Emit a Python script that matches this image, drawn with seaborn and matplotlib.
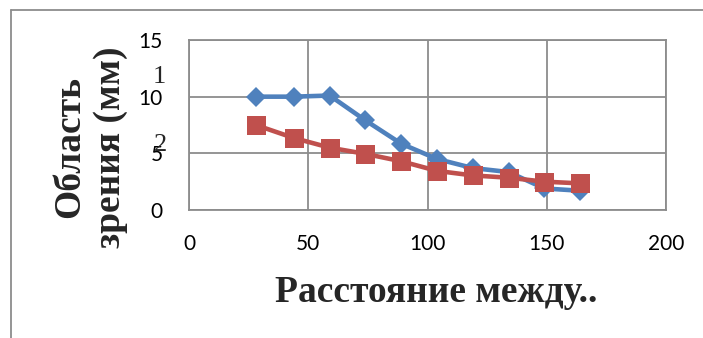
import pandas as pd
import numpy as np
import matplotlib
matplotlib.use('Agg')
import matplotlib.pyplot as plt
import seaborn as sns
from matplotlib.lines import Line2D

# distance values (x) and field of view for the two series
distance = [28, 44, 59, 74, 89, 104, 119, 134, 149, 164]
series_1 = [10.0, 10.0, 10.1, 7.9, 5.85, 4.5, 3.7, 3.35, 1.9, 1.7]
series_2 = [7.5, 6.35, 5.5, 4.95, 4.3, 3.45, 3.05, 2.85, 2.5, 2.35]
series_names = ['1', '2']
x_ticks = [0, 50, 100, 150, 200]
y_ticks = [0, 5, 10, 15]

sns.set_theme(style='white')
plt.rcParams['font.family'] = ['Lato', 'DejaVu Sans']

df = pd.DataFrame({
    'x': distance * 2,
    'y': series_1 + series_2,
    'name': [series_names[0]] * len(distance) + [series_names[1]] * len(distance),
})

fig = plt.figure(figsize=(7.03, 3.38), dpi=100)
ax = fig.add_axes([189 / 703, 1 - 210 / 338, (666 - 189) / 703, (210 - 40) / 338])

grid_col = '#8c8c8c'
sns.lineplot(data=df[df['name'] == '1'], x='x', y='y', color='#4F81BD', marker='D',
             markersize=13.5 * 0.72, markeredgewidth=0, linewidth=3.3, ax=ax, zorder=3)
sns.lineplot(data=df[df['name'] == '2'], x='x', y='y', color='#C0504D', marker='s',
             markersize=19 * 0.72, markeredgewidth=0, linewidth=3.3, ax=ax, zorder=4)

ax.set_xlim(0, 200)
ax.set_ylim(0, 15)
ax.set_xticks(x_ticks)
ax.set_yticks(y_ticks)
ax.grid(True, color=grid_col, linewidth=1.3)
for s in ax.spines.values():
    s.set_color(grid_col)
    s.set_linewidth(1.3)
ax.tick_params(axis='both', length=0, labelsize=15, colors='black')
ax.tick_params(axis='x', pad=17)
ax.tick_params(axis='y', pad=19)
ax.set_xlabel('')
ax.set_ylabel('')
if ax.get_legend():
    ax.get_legend().remove()

serif = ['Liberation Serif', 'DejaVu Serif']
fig.text(436 / 703, 1 - 292 / 338, 'Расстояние между..', family=serif, fontweight='bold',
         fontsize=27, ha='center', va='center')
fig.text(90 / 703, 1 - 147 / 338, 'Область\nзрения (мм)', family=serif, fontweight='bold',
         fontsize=27, ha='center', va='center', rotation=90, multialignment='center',
         linespacing=1.2)

# squashed legend entries
fig.text(166 / 703, 1 - 77 / 338, series_names[0], family=serif, fontsize=19,
         ha='right', va='center')
fig.text(167 / 703, 1 - 145 / 338, series_names[1], family=serif, fontsize=19,
         ha='right', va='center')

# chart area border
fig.add_artist(Line2D([11 / 703, 11 / 703], [1 - 10 / 338, 0], color=grid_col, linewidth=1.3))
fig.add_artist(Line2D([11 / 703, 1], [1 - 10 / 338, 1 - 10 / 338], color=grid_col, linewidth=1.3))

fig.savefig('out.png', dpi=100)
